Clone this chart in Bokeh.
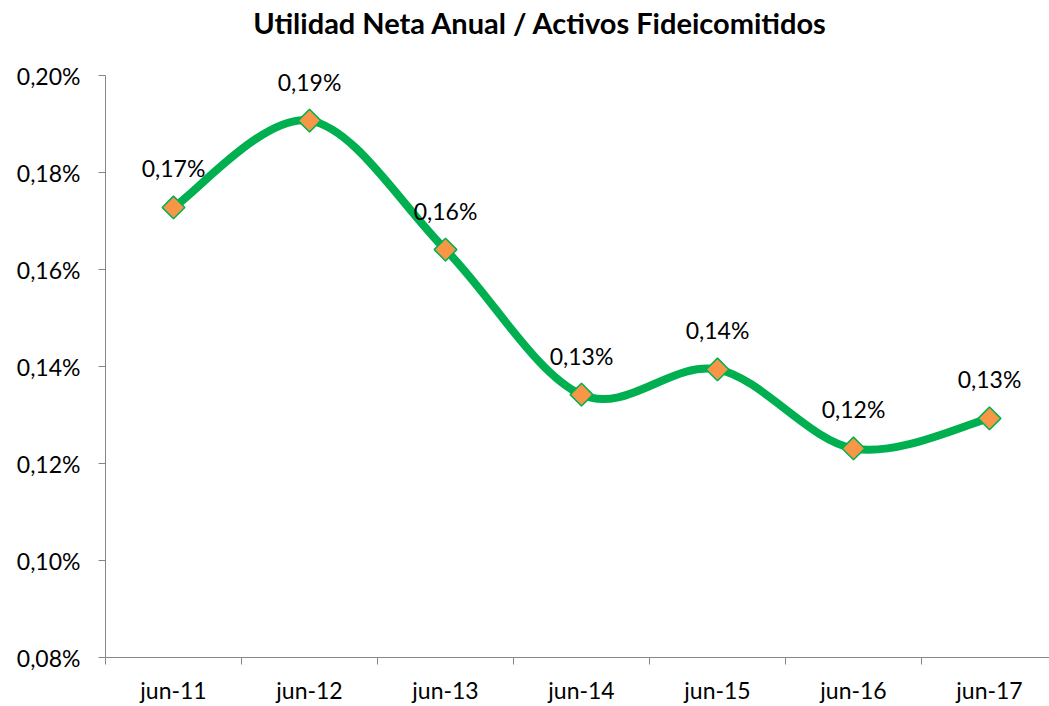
from bokeh.plotting import figure
from bokeh.models import FixedTicker, CustomJSTickFormatter, ColumnDataSource, Range1d
from bokeh.core.properties import value
from bokeh.embed import file_html
from bokeh.resources import INLINE

categories = ["jun-11", "jun-12", "jun-13", "jun-14", "jun-15", "jun-16", "jun-17"]
values = [0.1728, 0.1907, 0.1641, 0.1342, 0.1394, 0.1231, 0.1293]
y_ticks = [0.08, 0.10, 0.12, 0.14, 0.16, 0.18, 0.20]
title_text = "Utilidad Neta Anual / Activos Fideicomitidos"

FONT = "Lato"
GREEN = "#00B050"
ORANGE = "#F79646"
AXIS = "#868686"

W, H = 1049, 706
PLOT_TOP, PLOT_BOTTOM, PLOT_LEFT = 75, 657, 105
xs = list(range(len(categories)))
labels = [f"{v:.2f}".replace(".", ",") + "%" for v in values]

y_lo, y_hi = y_ticks[0], y_ticks[-1]
per_px = (y_hi - y_lo) / (PLOT_BOTTOM - PLOT_TOP)
p = figure(width=W, height=H, output_backend="svg", toolbar_location=None,
           x_range=Range1d(-0.5, -0.5 + (W - PLOT_LEFT) / 136.0),
           y_range=Range1d(y_lo, y_hi + PLOT_TOP * per_px),
           min_border_left=PLOT_LEFT, min_border_right=0, min_border_top=0,
           min_border_bottom=H - PLOT_BOTTOM)
p.outline_line_color = None
p.grid.visible = False
p.background_fill_color = "white"
p.border_fill_color = "white"

# title
p.text(x=[(540 - 173) / 136.0], y=[y_hi], text=[title_text], y_offset=-53,
       text_align="center", text_baseline="middle", text_font=value(FONT),
       text_font_style="bold", text_font_size="29px", text_color="black")

# smoothed line (Catmull-Rom style Bezier as Excel smoothing)
n = len(values)
P = list(zip(xs, values))
x0, y0, x1, y1, cx0, cy0, cx1, cy1 = [], [], [], [], [], [], [], []
for i in range(n - 1):
    pm = P[i - 1] if i > 0 else P[i]
    pa = P[i]
    pb = P[i + 1]
    pp = P[i + 2] if i + 2 < n else P[i + 1]
    x0.append(pa[0]); y0.append(pa[1]); x1.append(pb[0]); y1.append(pb[1])
    cx0.append(pa[0] + (pb[0] - pm[0]) / 6); cy0.append(pa[1] + (pb[1] - pm[1]) / 6)
    cx1.append(pb[0] - (pp[0] - pa[0]) / 6); cy1.append(pb[1] - (pp[1] - pa[1]) / 6)
p.bezier(x0=x0, y0=y0, x1=x1, y1=y1, cx0=cx0, cy0=cy0, cx1=cx1, cy1=cy1,
         line_color=GREEN, line_width=8)

src = ColumnDataSource(dict(x=xs, y=values, label=labels))
p.scatter("x", "y", source=src, marker="square", size=16, angle=0.785398,
          fill_color=ORANGE, line_color=GREEN, line_width=1.5)
p.text("x", "y", text="label", source=src, text_align="center", text_baseline="middle",
       y_offset=-39, text_font=value(FONT), text_font_size=value("23px"), text_color="black")

# axes
xax = p.xaxis[0]
xax.ticker = FixedTicker(ticks=xs, minor_ticks=[i - 0.5 for i in range(n + 1)])
xax.major_label_overrides = {i: c for i, c in enumerate(categories)}
xax.major_tick_out = 0
xax.major_tick_in = 0
xax.minor_tick_out = 7
xax.minor_tick_in = 0
xax.minor_tick_line_color = AXIS
xax.axis_line_color = AXIS
xax.axis_line_width = 1
xax.major_label_standoff = 11
xax.major_label_text_font = FONT
xax.major_label_text_font_size = "23px"
xax.major_label_text_color = "black"

yax = p.yaxis[0]
yax.bounds = (y_lo, y_hi)
yax.ticker = FixedTicker(ticks=y_ticks, minor_ticks=[])
yax.formatter = CustomJSTickFormatter(code="return tick.toFixed(2).replace('.', ',') + '%';")
yax.major_tick_out = 7
yax.major_tick_in = 0
yax.major_tick_line_color = AXIS
yax.axis_line_color = AXIS
yax.major_label_standoff = 18
yax.major_label_text_font = FONT
yax.major_label_text_font_size = "23px"
yax.major_label_text_color = "black"

open("out.html", "w").write(file_html(p, INLINE))
